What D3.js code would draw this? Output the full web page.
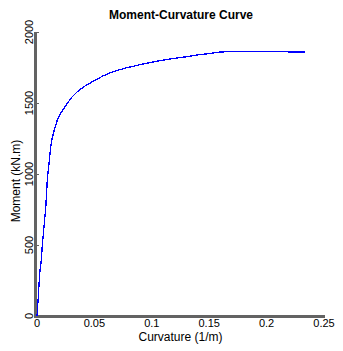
<!DOCTYPE html>
<html>
<head>
<meta charset="utf-8">
<script src="https://cdn.jsdelivr.net/npm/d3@7"></script>
<style>
  html, body { margin: 0; padding: 0; background: #fff; }
  svg { display: block; font-family: "Liberation Sans", Arial, sans-serif; }
</style>
</head>
<body>
<svg id="chart" width="343" height="351"></svg>
<script>
// Moment-curvature response of the section
const curvature = [0, 0.00113, 0.00235, 0.00375, 0.00462, 0.0061, 0.00758, 0.00897, 0.01045, 0.0119,
  0.0133, 0.0154, 0.0177, 0.0206, 0.0235, 0.0264, 0.0307, 0.0351, 0.0409, 0.0482,
  0.0578, 0.0636, 0.0723, 0.0781, 0.0926, 0.1071, 0.1159, 0.1304, 0.1391, 0.1522,
  0.1565, 0.1681, 0.20, 0.2334];
const moment = [0, 136, 300, 394, 500, 629, 758, 958, 1075, 1192,
  1254, 1322, 1380, 1427, 1463, 1498, 1544, 1580, 1615, 1650,
  1692, 1712, 1735, 1748, 1775, 1798, 1810, 1826, 1838, 1850,
  1857, 1863, 1863, 1858];

const xTicks = [0, 0.05, 0.1, 0.15, 0.2, 0.25];
const xTickLabels = ["0", "0.05", "0.1", "0.15", "0.2", "0.25"];
const yTicks = [0, 500, 1000, 1500, 2000];
const yTickLabels = ["0", "500", "1000", "1500", "2000"];

const svg = d3.select("#chart");
const axisColor = "#636363";

const x = d3.scaleLinear().domain([0, 0.25]).range([37, 324]);
const y = d3.scaleLinear().domain([0, 2000]).range([316, 32]);

// Title
svg.append("text")
  .attr("x", 181).attr("y", 19)
  .attr("text-anchor", "middle")
  .attr("font-size", 12).attr("font-weight", "bold")
  .text("Moment-Curvature Curve");

// Axis lines
svg.append("line")
  .attr("x1", 35.5).attr("x2", 35.5)
  .attr("y1", y(2000)).attr("y2", 318)
  .attr("stroke", axisColor).attr("stroke-width", 3);
svg.append("line")
  .attr("x1", 34).attr("x2", x(0.25) + 1)
  .attr("y1", 316.5).attr("y2", 316.5)
  .attr("stroke", axisColor).attr("stroke-width", 3);

// Y ticks and labels
const yg = svg.append("g");
yg.selectAll("line.tick").data(yTicks).join("line")
  .attr("class", "tick")
  .attr("x1", 37).attr("x2", 39)
  .attr("y1", d => Math.round(y(d)) + 0.5).attr("y2", d => Math.round(y(d)) + 0.5)
  .attr("stroke", axisColor).attr("stroke-width", 1);
yg.selectAll("text").data(yTicks).join("text")
  .attr("transform", d => `translate(33,${y(d)}) rotate(-90)`)
  .attr("text-anchor", "middle")
  .attr("font-size", 11)
  .text((d, i) => yTickLabels[i]);

// X tick labels
svg.append("g").selectAll("text").data(xTicks).join("text")
  .attr("x", d => x(d)).attr("y", 327)
  .attr("text-anchor", "middle")
  .attr("font-size", 11)
  .text((d, i) => xTickLabels[i]);

// Axis titles
svg.append("text")
  .attr("x", 180.5).attr("y", 341)
  .attr("text-anchor", "middle")
  .attr("font-size", 12)
  .text("Curvature (1/m)");
svg.append("text")
  .attr("transform", "translate(20,181) rotate(-90)")
  .attr("text-anchor", "middle")
  .attr("font-size", 12)
  .text("Moment (kN.m)");

// Curve
const line = d3.line().x(d => x(d[0])).y(d => y(d[1]));
svg.append("path")
  .datum(curvature.map((c, i) => [c, moment[i]]))
  .attr("d", line)
  .attr("fill", "none")
  .attr("stroke", "#0000ff")
  .attr("stroke-width", 1.3)
  .attr("shape-rendering", "crispEdges");
</script>
</body>
</html>
